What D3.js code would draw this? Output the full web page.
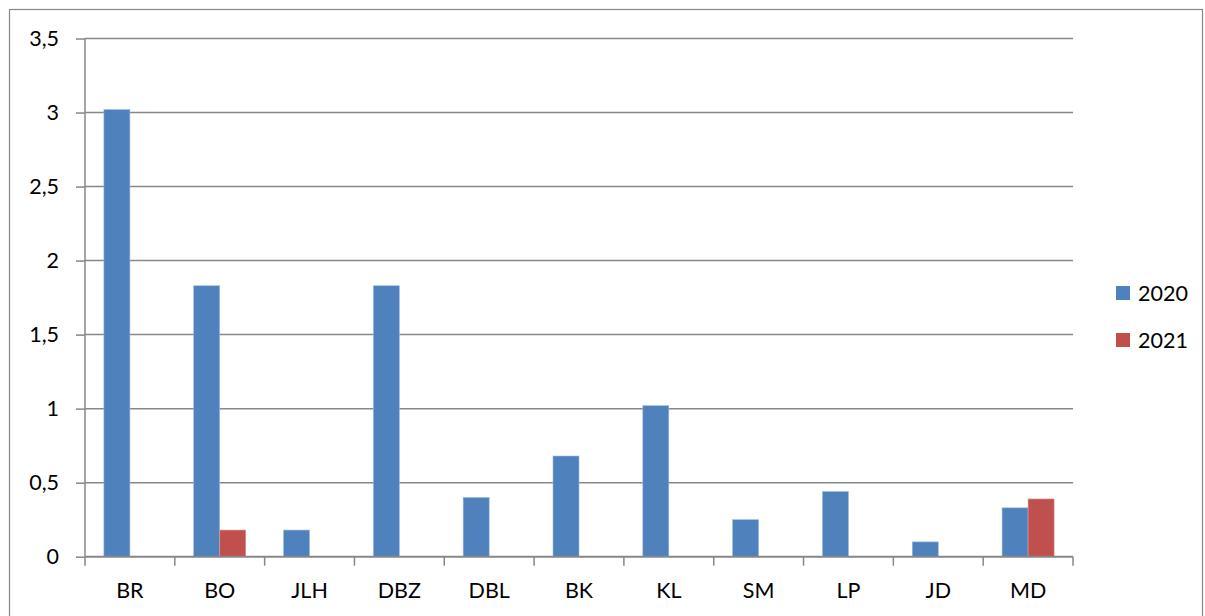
<!DOCTYPE html>
<html>
<head>
<meta charset="utf-8">
<script src="https://cdn.jsdelivr.net/npm/d3@7"></script>
<style>
  html, body { margin: 0; padding: 0; background: #fff; }
  svg { display: block; font-family: Lato, "Open Sans", sans-serif; }
</style>
</head>
<body>
<svg id="chart" width="1205" height="616"></svg>
<script>
const categories = ["BR", "BO", "JLH", "DBZ", "DBL", "BK", "KL", "SM", "LP", "JD", "MD"];
const seriesNames = ["2020", "2021"];
const values2020 = [3.02, 1.83, 0.18, 1.83, 0.40, 0.68, 1.02, 0.25, 0.44, 0.10, 0.33];
const values2021 = [0, 0.18, 0, 0, 0, 0, 0, 0, 0, 0, 0.39];
const yTicks = [0, 0.5, 1, 1.5, 2, 2.5, 3, 3.5];
const colors = ["#4F81BD", "#C0504D"];

(function () {
const seriesValues = [values2020, values2021];
const data = categories.map((c, i) => ({
  cat: c,
  vals: seriesNames.map((s, j) => ({ s, v: seriesValues[j][i], j }))
}));

const svg = d3.select("#chart");
const mLeft = 85, mRight = 1073, mTop = 38.5, mBottom = 556.7;
const grid = "#878787";
const fs = 21.5;

// outer frame
svg.append("rect").attr("x", 9.5).attr("y", 9.5).attr("width", 1193).attr("height", 620)
  .attr("fill", "none").attr("stroke", grid).attr("stroke-width", 1.2);

const x = d3.scaleBand().domain(categories).range([mLeft, mRight]).paddingInner(0).paddingOuter(0);
const xs = d3.scaleBand().domain(seriesNames).range([0, x.bandwidth()]).paddingInner(0).paddingOuter(0.727);
const y = d3.scaleLinear().domain([0, 3.5]).range([mBottom, mTop]);

const locale = d3.formatLocale({ decimal: ",", thousands: ".", grouping: [3], currency: ["", ""] });
const fmt = v => locale.format("")(v);

// gridlines
svg.append("g").selectAll("line").data(yTicks.filter(t => t > 0)).join("line")
  .attr("x1", mLeft).attr("x2", mRight)
  .attr("y1", d => y(d)).attr("y2", d => y(d))
  .attr("stroke", grid).attr("stroke-width", 1.5);

// bars
const groups = svg.append("g").selectAll("g").data(data).join("g")
  .attr("transform", d => `translate(${x(d.cat)},0)`);
groups.selectAll("rect").data(d => d.vals.filter(v => v.v > 0)).join("rect")
  .attr("x", d => xs(d.s))
  .attr("y", d => y(d.v))
  .attr("width", xs.bandwidth())
  .attr("height", d => y(0) - y(d.v))
  .attr("fill", d => colors[d.j])
  .attr("stroke", d => d.j === 0 ? "#9DB9DE" : "#D99694")
  .attr("stroke-width", 0.6);

// y axis
const yAxis = svg.append("g").attr("transform", `translate(${mLeft},0)`)
  .call(d3.axisLeft(y).tickValues(yTicks).tickFormat(fmt).tickSize(9).tickPadding(17));
yAxis.select(".domain").attr("stroke", grid).attr("stroke-width", 1.5).attr("d", `M0,${mTop}V${mBottom}`);
yAxis.selectAll(".tick line").attr("stroke", grid).attr("stroke-width", 1.5);
yAxis.selectAll(".tick text").attr("font-size", fs).attr("fill", "#000")
  .attr("font-family", "Lato, 'Open Sans', sans-serif");

// x axis
const xAxisG = svg.append("g").attr("transform", `translate(0,${mBottom})`);
xAxisG.append("line").attr("x1", mLeft).attr("x2", mRight).attr("y1", 0).attr("y2", 0)
  .attr("stroke", grid).attr("stroke-width", 2);
const boundaries = categories.map(c => x(c)).concat([mRight]);
xAxisG.selectAll("line.tk").data(boundaries).join("line").attr("class", "tk")
  .attr("x1", d => d).attr("x2", d => d).attr("y1", 0).attr("y2", 9)
  .attr("stroke", grid).attr("stroke-width", 1.5);
xAxisG.selectAll("text").data(categories).join("text")
  .attr("x", d => x(d) + x.bandwidth() / 2).attr("y", 41.5)
  .attr("text-anchor", "middle").attr("font-size", fs).attr("fill", "#000")
  .text(d => d);

// legend
const legend = svg.append("g").selectAll("g").data(seriesNames).join("g")
  .attr("transform", (d, i) => `translate(1116,${286 + i * 47})`);
legend.append("rect").attr("width", 14).attr("height", 14).attr("fill", (d, i) => colors[i]);
legend.append("text").attr("x", 22).attr("y", 14.5).attr("font-size", fs).attr("fill", "#000").text(d => d);
})();
</script>
</body>
</html>
